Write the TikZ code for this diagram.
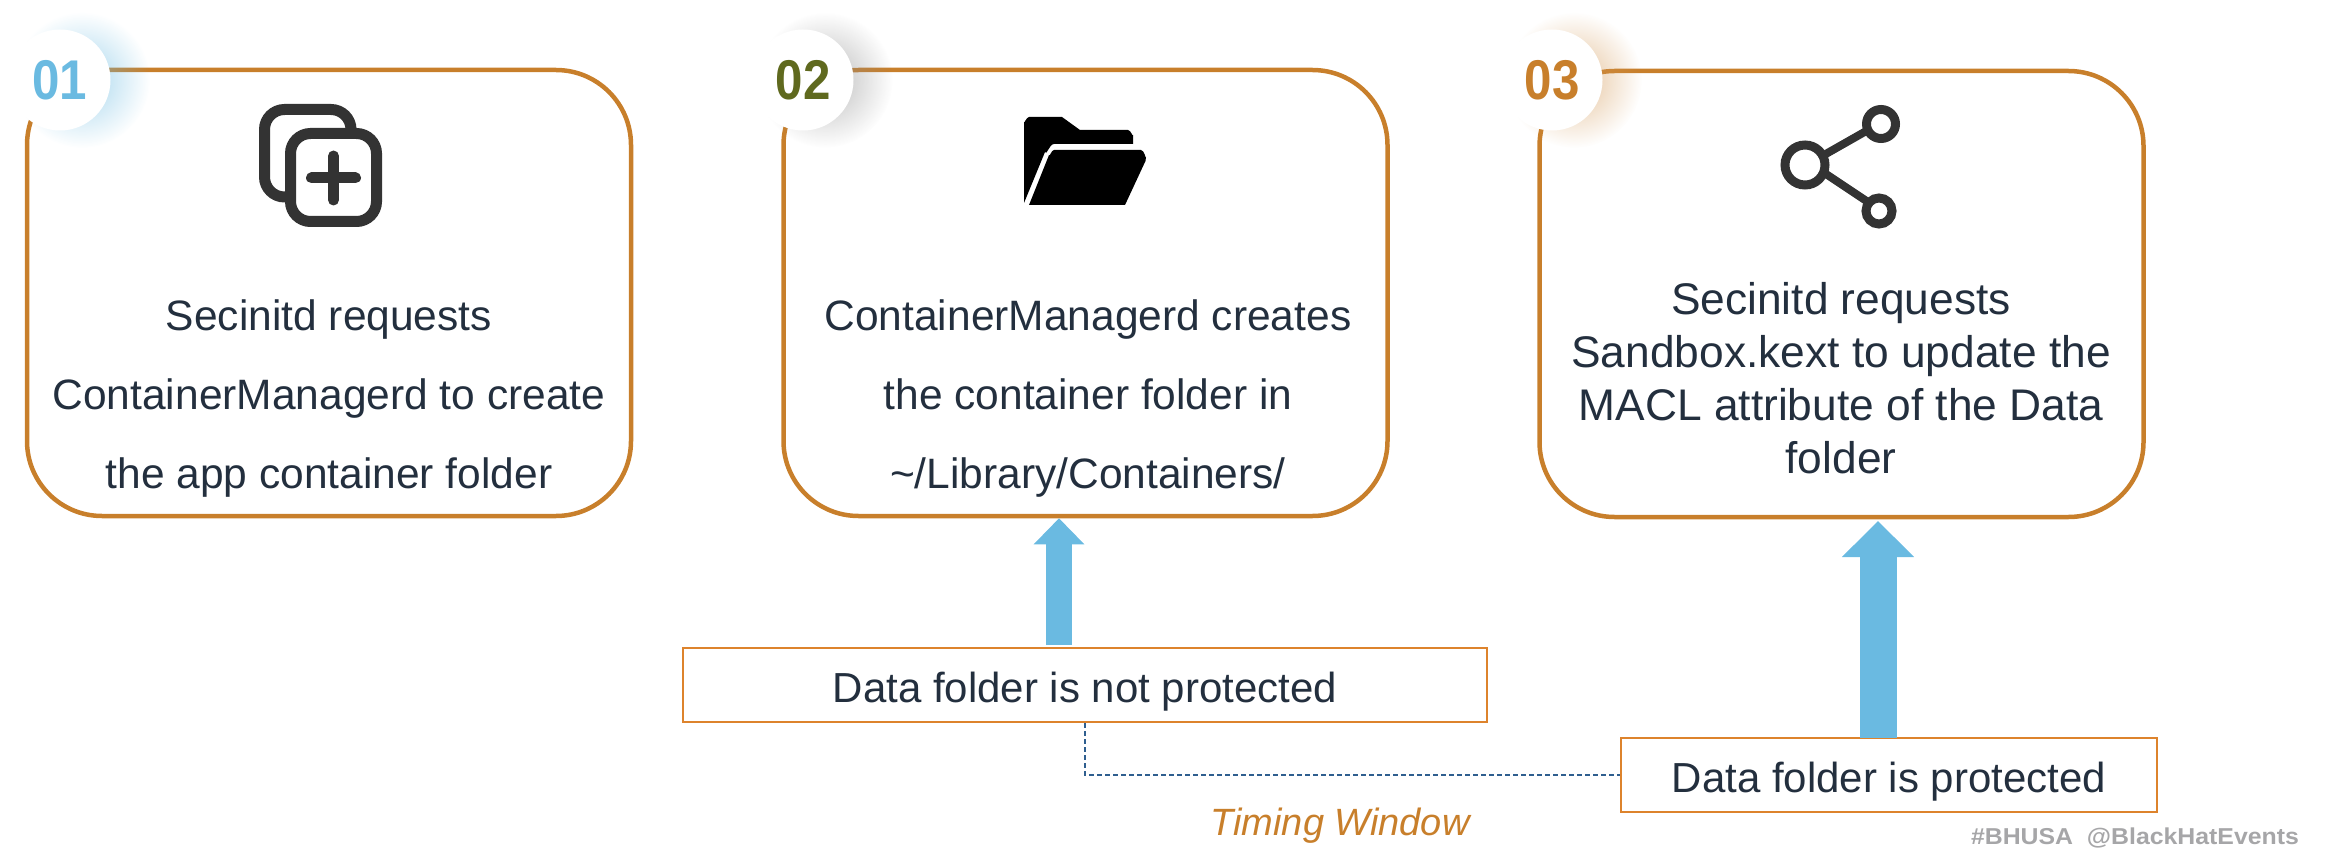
\documentclass[tikz,border=0pt]{standalone}
\usepackage{fontspec}
\setmainfont{Liberation Sans}
\newfontfamily\badgefont[FakeStretch=0.88]{Liberation Sans Bold}
\newfontfamily\tagfont[FakeStretch=1.08]{Liberation Sans Bold}
\usetikzlibrary{arrows.meta,fadings}
\definecolor{boxline}{HTML}{C87F2B}
\definecolor{noteline}{HTML}{DD832C}
\definecolor{bodytext}{HTML}{232F3E}
\definecolor{skyblue}{HTML}{6ABAE1}
\definecolor{olive}{HTML}{5F691E}
\definecolor{iconcol}{HTML}{333333}
\definecolor{dashcol}{HTML}{2F5F8F}
\definecolor{tagcol}{HTML}{A6A6A8}
\tikzfading[name=glowfade, inner color=transparent!40, outer color=transparent!100]
\tikzset{
    stepbox/.style={draw=boxline,line width=4.5pt,rounded corners=75pt,minimum width=604pt,minimum height=446pt},
    steptext/.style={text=bodytext,align=center,font=\fontsize{42.5}{79}\selectfont},
    steptextbig/.style={text=bodytext,align=center,font=\fontsize{44.3}{53}\selectfont},
    badge/.style={circle,fill=white,minimum size=101pt,inner sep=0pt,font=\badgefont\fontsize{56}{56}\selectfont},
    notebox/.style={draw=noteline,line width=2pt,fill=white,minimum height=74pt,text height=34pt,text depth=0pt,text=bodytext,font=\fontsize{42}{50}\selectfont},
    arrowsmall/.style={draw=skyblue,line width=26pt,-{Triangle[width=49pt,length=26pt]}},
    arrowbig/.style={draw=skyblue,line width=37pt,-{Triangle[width=70pt,length=36pt]}},
    icon/.style={draw=iconcol,line width=11pt}
}
\begin{document}
\begin{tikzpicture}[x=1pt,y=-1pt]
    \useasboundingbox (0,0) rectangle (2329,853);

    \node[stepbox] (boxone) at (329,293) {};
    \node[stepbox] (boxtwo) at (1085.5,293) {};
    \node[stepbox] (boxthree) at (1841.5,294) {};

    \node[steptext] (textone) at (329,399) {Secinitd requests\\ContainerManagerd to create\\the app container folder};
    \node[steptext] (texttwo) at (1088,399) {ContainerManagerd creates\\the container folder in\\\textasciitilde/Library/Containers/};
    \node[steptextbig] (textthree) at (1841,378) {Secinitd requests\\Sandbox.kext to update the\\MACL attribute of the Data\\folder};

    \fill[skyblue,path fading=glowfade] (82,80) circle (68);
    \fill[black!45,path fading=glowfade] (825,80) circle (68);
    \fill[boxline!80,path fading=glowfade] (1574,80) circle (68);

    \node[badge,text=skyblue] (badgeone) at (60,80) {01};
    \node[badge,text=olive] (badgetwo) at (803,80) {02};
    \node[badge,text=boxline] (badgethree) at (1552,80) {03};

    % copy icon
    \draw[icon,rounded corners=20pt] (290.5,133.5) rectangle (376.5,221.5);
    \draw[icon,rounded corners=20pt] (290,197) -- (264.5,197) -- (264.5,109.5) -- (351,109.5) -- (351,128);
    \draw[icon,line cap=round] (311.5,178) -- (355.5,178) (333.5,156) -- (333.5,200);

    % folder icon
    \fill[black] (1024,203) -- (1024,122) to[out=-90,in=180] (1029,117) -- (1062,117) -- (1080,130) -- (1128,130)
        to[out=0,in=-90] (1133,135) -- (1133,144) -- (1054,144) to[out=180,in=-75] (1045,152) -- cycle;
    \fill[black] (1029,205) -- (1049,155) to[out=-75,in=180] (1054,150) -- (1141,150) to[out=0,in=-90] (1146,157)
        to[out=90,in=-75] (1145,162) -- (1125,205) -- cycle;

    % share icon
    \draw[icon,line width=9pt] (1805,165) circle (20);
    \draw[icon,line width=9pt] (1881,124) circle (14.5);
    \draw[icon,line width=9pt] (1879,211) circle (13);
    \draw[icon,line width=8pt] (1824,155) -- (1868,130);
    \draw[icon,line width=8pt] (1826,174) -- (1868,202);

    \node[notebox,minimum width=804pt] (notprotected) at (1085,685) {Data folder is not protected};
    \node[notebox,minimum width=536pt] (protected) at (1889,775) {Data folder is protected};

    \coordinate (tailone) at (1059,645);
    \coordinate (tailtwo) at (1878,738);
    \draw[arrowsmall] (tailone) -- (tailone |- boxtwo.south);
    \draw[arrowbig] (tailtwo) -- (1878,521);

    \coordinate (bend) at (notprotected.south |- protected.west);
    \draw[dashcol,line width=1.5pt,dash pattern=on 5pt off 3pt] (notprotected.south) -- (bend) -- (protected.west);

    \node[text=boxline,font=\fontsize{38}{46}\selectfont\itshape] (timing) at (1340,826) {Timing Window};
    \node[text=tagcol,font=\tagfont\fontsize{23}{27}\selectfont] (tag) at (2135,838) {\#BHUSA\ \ @BlackHatEvents};
\end{tikzpicture}
\end{document}
